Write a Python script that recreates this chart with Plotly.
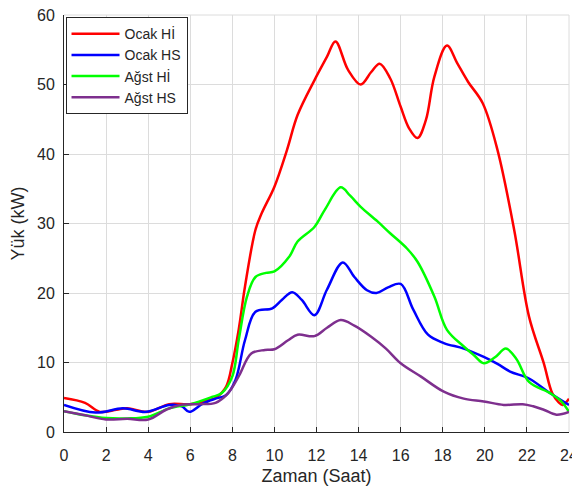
import plotly.graph_objects as go

# --- data ---
ocak_hi_x = [0, 1, 1.7, 2.5, 3, 4, 5, 6, 7, 7.2, 7.7, 8, 8.3, 8.6, 9.1, 9.4, 10, 10.6, 11.1, 11.9, 12.5, 12.9, 13.5, 14.1, 14.6, 15.0, 15.5, 16.0, 16.4, 16.8, 17.2, 17.6, 18.2, 18.7, 19.2, 19.9, 20.6, 21.4, 22.1, 22.8, 23.2, 23.5, 23.7, 24]
ocak_hi_y = [4.9, 4.2, 2.9, 3.2, 3.4, 2.9, 4.0, 4.0, 4.7, 4.9, 6.5, 9.9, 14.7, 20.9, 29.1, 31.5, 35.3, 40.6, 45.6, 50.6, 54.0, 56.2, 52.1, 50.0, 51.8, 53.0, 50.9, 46.8, 43.7, 42.3, 44.9, 51.1, 55.6, 53.0, 50.4, 47.3, 40.6, 29.0, 16.6, 9.9, 5.6, 4.3, 3.9, 4.8]

ocak_hs_x = [0, 1.5, 2.8, 3.9, 5.0, 5.6, 5.95, 6.6, 7.2, 7.7, 8.15, 8.6, 9.1, 9.9, 10.35, 10.85, 11.3, 11.9, 12.5, 13.25, 13.8, 14.4, 14.85, 15.4, 16.0, 16.6, 17.3, 18.05, 19.0, 19.95, 20.6, 21.2, 22.1, 23.0, 24]
ocak_hs_y = [3.9, 2.8, 3.4, 2.9, 3.9, 3.7, 2.9, 4.1, 4.8, 5.3, 7.5, 13.2, 17.3, 17.8, 19.0, 20.1, 19.0, 16.8, 20.5, 24.4, 22.3, 20.4, 20.0, 20.8, 21.3, 17.6, 14.0, 12.8, 12.0, 10.8, 9.8, 8.7, 7.7, 5.8, 3.9]

agst_hi_x = [0, 1, 2, 3, 4, 5, 6, 7, 7.5, 8.0, 8.3, 8.7, 9.1, 9.6, 10.0, 10.7, 11.1, 11.9, 12.4, 13.15, 13.6, 14.1, 14.9, 15.5, 16.3, 16.8, 17.6, 18.2, 19.0, 19.5, 19.95, 20.5, 21.0, 21.5, 22.1, 23.1, 23.6, 24]
agst_hi_y = [3.0, 2.4, 2.0, 1.95, 2.2, 3.4, 4.0, 5.0, 5.6, 8.0, 13.2, 19.5, 22.3, 22.9, 23.1, 25.2, 27.4, 29.5, 32.0, 35.2, 34.0, 32.4, 30.3, 28.6, 26.4, 24.5, 19.5, 14.7, 12.3, 11.0, 9.9, 10.8, 12.0, 10.5, 7.2, 5.6, 4.5, 2.9]

agst_hs_x = [0, 1, 2, 3, 4, 4.85, 5.5, 6.4, 7.2, 7.8, 8.3, 8.9, 9.55, 10.0, 10.65, 11.1, 11.9, 12.5, 13.15, 13.8, 14.6, 15.3, 16.0, 16.95, 18.05, 19.0, 19.95, 20.9, 21.8, 22.3, 22.8, 23.4, 24]
agst_hs_y = [3.0, 2.4, 1.8, 1.9, 1.8, 3.2, 3.9, 4.0, 4.2, 5.6, 8.0, 11.3, 11.8, 11.9, 13.2, 14.0, 13.8, 15.0, 16.1, 15.3, 13.7, 12.0, 9.9, 8.0, 5.8, 4.8, 4.4, 3.9, 4.0, 3.7, 3.2, 2.5, 2.9]

series_names = ["Ocak Hİ", "Ocak HS", "Ağst Hİ", "Ağst HS"]
series_colors = ["#ff0000", "#0000ff", "#00ff00", "#7e2f8e"]
x_ticks = list(range(0, 25, 2))
y_ticks = list(range(0, 61, 10))

fig = go.Figure()
for name, color, xs, ys in zip(series_names, series_colors,
                               [ocak_hi_x, ocak_hs_x, agst_hi_x, agst_hs_x],
                               [ocak_hi_y, ocak_hs_y, agst_hi_y, agst_hs_y]):
    fig.add_trace(go.Scatter(x=xs, y=ys, name=name, mode="lines",
                             line=dict(color=color, width=2.5, shape="spline", smoothing=1.0)))

font_family = "Liberation Sans, Arial, sans-serif"
# page body has an 8px default margin, so the figure is sized/offset to compensate
fig.update_layout(
    width=572, height=478,
    margin=dict(l=56, r=11, t=7, b=54),
    paper_bgcolor="white", plot_bgcolor="white",
    font=dict(family=font_family, color="#262626"),
    showlegend=True,
    legend=dict(x=0.003, y=0.995, xanchor="left", yanchor="top",
                bgcolor="white", bordercolor="#262626", borderwidth=1,
                font=dict(size=14, color="#262626"), itemwidth=48,
                tracegroupgap=0),
    xaxis=dict(range=[0, 24], tickvals=x_ticks, showgrid=True, gridcolor="#dcdcdc",
               gridwidth=1, zeroline=False, showline=True, linecolor="#262626",
               linewidth=1, ticks="inside", ticklen=5, tickcolor="#262626",
               automargin=False, ticklabeloverflow="allow", ticklabelstandoff=9,
               tickfont=dict(size=16, color="#262626"),
               title=dict(text="Zaman (Saat)", font=dict(size=18, color="#262626"), standoff=10)),
    yaxis=dict(range=[0, 60], tickvals=y_ticks, showgrid=True, gridcolor="#dcdcdc",
               gridwidth=1, zeroline=False, showline=True, linecolor="#262626",
               linewidth=1, ticks="inside", ticklen=5, tickcolor="#262626",
               automargin=False, ticklabeloverflow="allow", ticklabelstandoff=5,
               tickfont=dict(size=16, color="#262626"),
               title=dict(text="Yük (kW)", font=dict(size=18, color="#262626"), standoff=8)),
)
# light frame on top/right (grid at the edges)
fig.add_shape(type="line", xref="paper", yref="paper", x0=0, x1=1, y0=1, y1=1,
              line=dict(color="#dcdcdc", width=1), layer="below")
fig.add_shape(type="line", xref="paper", yref="paper", x0=1, x1=1, y0=0, y1=1,
              line=dict(color="#dcdcdc", width=1), layer="below")

fig.write_html("out.html")
